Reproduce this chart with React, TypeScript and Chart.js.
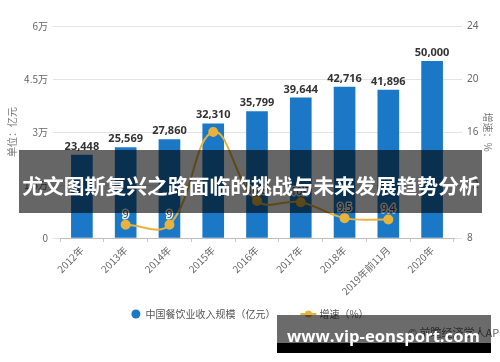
import React, { useEffect, useRef } from 'react';
import { Chart, registerables } from 'chart.js';

Chart.register(...registerables);

const categories = ['2012年', '2013年', '2014年', '2015年', '2016年', '2017年', '2018年', '2019年前11月', '2020年'];
const revenue = [23448, 25569, 27860, 32310, 35799, 39644, 42716, 41896, 50000];
const growth: (number | null)[] = [null, 9, 9, 16, 10.8, 10.7, 9.5, 9.4, null];
const seriesNames = ['中国餐饮业收入规模（亿元）', '增速（%）'];
const axisTitles = ['单位：亿元', '增速：%'];
const bannerTitle = '尤文图斯复兴之路面临的挑战与未来发展趋势分析';
const watermarkText = 'www.vip-eonsport.com';
const sourceText = '© 前瞻经济学人APP';

const BAR_COLOR = '#1b78c6';
const LINE_COLOR = '#e8b33a';
const FONT = '"Noto Sans", "Noto Sans CJK SC", sans-serif';
const CJK = '"Noto Sans CJK SC", "Noto Sans", sans-serif';

const labelPlugin = {
  id: 'valueLabels',
  afterDatasetsDraw(chart: any) {
    const ctx = chart.ctx;
    const barMeta = chart.getDatasetMeta(0);
    const lineMeta = chart.getDatasetMeta(1);
    const barBoxes: { x: number; y: number; w: number }[] = [];
    ctx.save();
    ctx.textAlign = 'center';
    ctx.textBaseline = 'bottom';
    ctx.font = `bold 11px ${FONT}`;
    ctx.fillStyle = '#333';
    barMeta.data.forEach((el: any, i: number) => {
      const txt = revenue[i].toLocaleString('en-US');
      ctx.fillText(txt, el.x, el.y - 3);
      barBoxes.push({ x: el.x, y: el.y - 3, w: ctx.measureText(txt).width });
    });
    ctx.font = `10px ${FONT}`;
    ctx.textBaseline = 'middle';
    ctx.lineJoin = 'round';
    lineMeta.data.forEach((el: any, i: number) => {
      const v = growth[i];
      if (v == null) return;
      const ly = el.y - 10;
      const b = barBoxes[i];
      if (b && Math.abs(ly - (b.y - 6)) < 14) return;
      const txt = String(v);
      ctx.strokeStyle = 'rgba(255,255,255,0.9)';
      ctx.lineWidth = 3;
      ctx.strokeText(txt, el.x, ly);
      ctx.fillStyle = '#333';
      ctx.fillText(txt, el.x, ly);
    });
    ctx.restore();
  },
};

const legendPlugin = {
  id: 'customLegend',
  afterDraw(chart: any) {
    const ctx = chart.ctx as CanvasRenderingContext2D;
    ctx.save();
    ctx.font = `10px ${CJK}`;
    const t1 = ctx.measureText(seriesNames[0]).width;
    const t2 = ctx.measureText(seriesNames[1]).width;
    const w1 = 9 + 5 + t1;
    const w2 = 16 + 3 + t2;
    const gap = 25;
    const cy = 314;
    let x = chart.width / 2 - (w1 + gap + w2) / 2;
    ctx.fillStyle = BAR_COLOR;
    ctx.beginPath();
    ctx.arc(x + 4.5, cy, 4.5, 0, Math.PI * 2);
    ctx.fill();
    ctx.fillStyle = '#555';
    ctx.textAlign = 'left';
    ctx.textBaseline = 'middle';
    ctx.fillText(seriesNames[0], x + 14, cy);
    x += w1 + gap;
    ctx.strokeStyle = LINE_COLOR;
    ctx.lineWidth = 2;
    ctx.beginPath();
    ctx.moveTo(x, cy);
    ctx.lineTo(x + 16, cy);
    ctx.stroke();
    ctx.fillStyle = LINE_COLOR;
    ctx.beginPath();
    ctx.arc(x + 8, cy, 3.5, 0, Math.PI * 2);
    ctx.fill();
    ctx.fillStyle = '#555';
    ctx.fillText(seriesNames[1], x + 19, cy);
    ctx.restore();
  },
};

function fitFont(ctx: CanvasRenderingContext2D, text: string, weight: string, family: string, width: number) {
  ctx.font = `${weight} 20px ${family}`;
  const w = ctx.measureText(text).width;
  return (20 * width) / w;
}

const overlayPlugin = {
  id: 'overlays',
  afterDraw(chart: any) {
    const ctx = chart.ctx as CanvasRenderingContext2D;
    ctx.save();
    // banner
    ctx.fillStyle = 'rgba(0,0,0,0.6)';
    ctx.fillRect(19, 150, 463, 63);
    const bs = fitFont(ctx, bannerTitle, 'bold', CJK, 458);
    ctx.font = `bold ${bs}px ${CJK}`;
    ctx.fillStyle = '#fff';
    ctx.textAlign = 'center';
    ctx.textBaseline = 'middle';
    ctx.fillText(bannerTitle, 251, 186);
    // source text
    ctx.font = `11px ${CJK}`;
    ctx.fillStyle = '#666';
    ctx.textAlign = 'left';
    ctx.fillText(sourceText, 408, 333);
    // watermark box
    ctx.fillStyle = 'rgba(0,0,0,0.58)';
    ctx.fillRect(277, 315, 214, 28);
    ctx.fillStyle = '#000';
    ctx.fillRect(277, 343, 214, 10);
    const ws = fitFont(ctx, watermarkText, 'bold', '"Open Sans", "Noto Sans", sans-serif', 193);
    ctx.font = `bold ${ws}px "Open Sans", "Noto Sans", sans-serif`;
    ctx.fillStyle = '#fff';
    ctx.textAlign = 'left';
    ctx.textBaseline = 'alphabetic';
    ctx.fillText(watermarkText, 287, 342);
    ctx.restore();
  },
};

export default function App() {
  const ref = useRef<HTMLCanvasElement>(null);
  useEffect(() => {
    if (!ref.current) return;
    const chart = new Chart(ref.current, {
      type: 'bar',
      data: {
        labels: categories,
        datasets: [
          {
            type: 'bar',
            label: seriesNames[0],
            data: revenue,
            backgroundColor: BAR_COLOR,
            barThickness: 21,
            yAxisID: 'y',
            order: 2,
          },
          {
            type: 'line',
            label: seriesNames[1],
            data: growth,
            borderColor: LINE_COLOR,
            backgroundColor: LINE_COLOR,
            pointBackgroundColor: LINE_COLOR,
            pointBorderColor: LINE_COLOR,
            pointRadius: 4,
            borderWidth: 2,
            tension: 0.4,
            yAxisID: 'y1',
            order: 1,
          } as any,
        ],
      },
      options: {
        animation: false,
        responsive: false,
        maintainAspectRatio: false,
        layout: { padding: { top: 26, bottom: 63, left: 0, right: 0 } },
        plugins: {
          tooltip: { enabled: false },
          legend: { display: false },
        },
        scales: {
          x: {
            offset: true,
            grid: { display: true, drawOnChartArea: false, drawTicks: true, tickLength: 4, color: '#c8c8c8' },
            border: { display: true, color: '#bdbdbd' },
            ticks: {
              color: '#666',
              font: { size: 10, family: CJK },
              maxRotation: 45,
              minRotation: 45,
              padding: 2,
              autoSkip: false,
            },
            afterFit: (s: any) => {
              s.height = 61;
            },
          },
          y: {
            position: 'left',
            min: 0,
            max: 60000,
            grid: { color: '#e4e4e4', tickLength: 7 },
            border: { display: false },
            ticks: {
              stepSize: 15000,
              color: '#666',
              padding: 5,
              font: { size: 10, family: CJK },
              callback: (v: any) => (v === 0 ? '0' : `${v / 10000}万`),
            },
            title: {
              display: true,
              text: axisTitles[0],
              color: '#777',
              font: { size: 10, family: CJK },
              padding: { top: 6, bottom: 0 },
            },
            afterFit: (s: any) => {
              s.width = 60;
            },
          },
          y1: {
            position: 'right',
            min: 8,
            max: 24,
            grid: { drawOnChartArea: false, tickLength: 8, color: '#e4e4e4' },
            border: { display: false },
            ticks: {
              stepSize: 4,
              color: '#666',
              padding: 5,
              font: { size: 10, family: FONT },
            },
            title: {
              display: true,
              text: axisTitles[1],
              color: '#777',
              font: { size: 10, family: CJK },
              padding: { top: 6, bottom: 0 },
            },
            afterFit: (s: any) => {
              s.width = 46;
            },
          },
        },
      },
      plugins: [labelPlugin, legendPlugin, overlayPlugin],
    });
    return () => chart.destroy();
  }, []);
  return (
    <div style={{ position: 'absolute', left: 0, top: 0, width: 500, height: 362, background: '#fff' }}>
      <canvas ref={ref} width={500} height={362} style={{ width: 500, height: 362 }} />
    </div>
  );
}
